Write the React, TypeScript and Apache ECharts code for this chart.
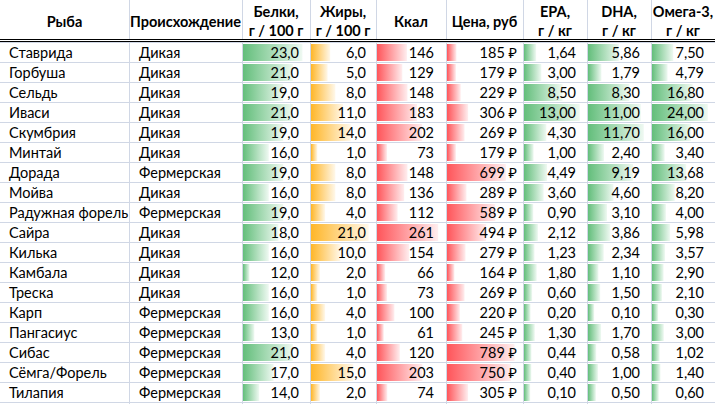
import { useEffect, useRef } from "react";
import * as echarts from "echarts";

const headers = [
  "Рыба",
  "Происхождение",
  "Белки,\nг / 100 г",
  "Жиры,\nг / 100 г",
  "Ккал",
  "Цена, руб",
  "EPA,\nг / кг",
  "DHA,\nг / кг",
  "Омега-3,\nг / кг",
];

const fishNames = [
  "Ставрида", "Горбуша", "Сельдь", "Иваси", "Скумбрия", "Минтай", "Дорада", "Мойва",
  "Радужная форель", "Сайра", "Килька", "Камбала", "Треска", "Карп", "Пангасиус", "Сибас",
  "Сёмга/Форель", "Тилапия",
];
const origins = [
  "Дикая", "Дикая", "Дикая", "Дикая", "Дикая", "Дикая", "Фермерская", "Дикая",
  "Фермерская", "Дикая", "Дикая", "Дикая", "Дикая", "Фермерская", "Фермерская", "Фермерская",
  "Фермерская", "Фермерская",
];
const protein = [23, 21, 19, 21, 19, 16, 19, 16, 19, 18, 16, 12, 16, 16, 13, 21, 17, 14];
const fat = [6, 5, 8, 11, 14, 1, 8, 8, 4, 21, 10, 2, 1, 4, 1, 4, 15, 2];
const kcal = [146, 129, 148, 183, 202, 73, 148, 136, 112, 261, 154, 66, 73, 100, 61, 120, 203, 74];
const price = [185, 179, 229, 306, 269, 179, 699, 289, 589, 494, 279, 164, 269, 220, 245, 789, 750, 305];
const epa = [1.64, 3.0, 8.5, 13.0, 4.3, 1.0, 4.49, 3.6, 0.9, 2.12, 1.23, 1.8, 0.6, 0.2, 1.3, 0.44, 0.4, 0.1];
const dha = [5.86, 1.79, 8.3, 11.0, 11.7, 2.4, 9.19, 4.6, 3.1, 3.86, 2.34, 1.1, 1.5, 0.1, 1.7, 0.58, 1.0, 0.5];
const omega3 = [7.5, 4.79, 16.8, 24.0, 16.0, 3.4, 13.68, 8.2, 4.0, 5.98, 3.57, 2.9, 2.1, 0.3, 3.0, 1.02, 1.4, 0.6];

const colEdges = [0, 129, 242, 310, 376, 446, 523, 587, 651, 715];
const TOP = 42;
const ROW_H = 20;
const FONT = "Lato, 'Noto Sans', sans-serif";
const FS = 14.5;
const GRID_COLOR = "#D0D7E5";

const GREEN = "#63BE7B";
const ORANGE = "#FFB628";
const RED = "#FF555A";

function mixWhite(hex: string, t: number) {
  const n = parseInt(hex.slice(1), 16);
  const r = (n >> 16) & 255, g = (n >> 8) & 255, b = n & 255;
  const m = (c: number) => Math.round(c * t + 255 * (1 - t));
  return `rgb(${m(r)},${m(g)},${m(b)})`;
}

const dec = (d: number) => (v: number) => v.toFixed(d).replace(".", ",");
const rub = (v: number) => `${v} ₽`;

type Col =
  | { kind: "text"; values: string[]; padLeft: number }
  | { kind: "bar"; values: number[]; color: string; fmt: (v: number) => string; padRight: number };

const columns: Col[] = [
  { kind: "text", values: fishNames, padLeft: 9 },
  { kind: "text", values: origins, padLeft: 10 },
  { kind: "bar", values: protein, color: GREEN, fmt: dec(1), padRight: 11 },
  { kind: "bar", values: fat, color: ORANGE, fmt: dec(1), padRight: 10 },
  { kind: "bar", values: kcal, color: RED, fmt: dec(0), padRight: 12 },
  { kind: "bar", values: price, color: RED, fmt: rub, padRight: 6 },
  { kind: "bar", values: epa, color: GREEN, fmt: dec(2), padRight: 11 },
  { kind: "bar", values: dha, color: GREEN, fmt: dec(2), padRight: 11 },
  { kind: "bar", values: omega3, color: GREEN, fmt: dec(2), padRight: 11 },
];

export default function App() {
  const ref = useRef<HTMLDivElement>(null);
  useEffect(() => {
    document.body.style.margin = "0";
    const chart = echarts.init(ref.current!, undefined, { renderer: "svg" });
    const rows = fishNames.map((_, i) => String(i));
    const grids: any[] = [];
    const xAxes: any[] = [];
    const yAxes: any[] = [];
    const series: any[] = [];

    // full-width grid for horizontal row lines
    grids.push({ left: 0, width: 715, top: TOP, height: ROW_H * rows.length });
    xAxes.push({ type: "value", gridIndex: 0, show: false, min: 0, max: 1 });
    yAxes.push({
      type: "category", gridIndex: 0, data: rows, inverse: true,
      axisLine: { show: false }, axisTick: { show: false }, axisLabel: { show: false },
      splitLine: { show: true, lineStyle: { color: GRID_COLOR, width: 1 } },
    });

    columns.forEach((col, ci) => {
      const gi = ci + 1;
      const left = colEdges[ci] + 1;
      const width = colEdges[ci + 1] - colEdges[ci] - 2;
      grids.push({ left, width, top: TOP, height: ROW_H * rows.length });
      yAxes.push({
        type: "category", gridIndex: gi, data: rows, inverse: true, show: false,
      });
      if (col.kind === "text") {
        xAxes.push({ type: "value", gridIndex: gi, show: false, min: 0, max: 1 });
        series.push({
          type: "custom", xAxisIndex: gi, yAxisIndex: gi,
          data: col.values.map((_, r) => [0, r]),
          renderItem: (params: any, api: any) => {
            const r = api.value(1);
            const [x0, yc] = api.coord([0, r]);
            return {
              type: "text",
              style: {
                text: col.values[r], x: x0 + col.padLeft - 1, y: yc,
                align: "left", verticalAlign: "middle",
                fontFamily: FONT, fontSize: FS, fill: "#000",
              },
            };
          },
        });
      } else {
        const vmin = Math.min(...col.values);
        const vmax = Math.max(...col.values);
        const R = (vmax - vmin) / 0.8;
        const amin = vmin - 0.1 * R;
        xAxes.push({ type: "value", gridIndex: gi, show: false, min: amin, max: amin + R });
        const grad = new echarts.graphic.LinearGradient(0, 0, 1, 0, [
          { offset: 0, color: col.color },
          { offset: 1, color: mixWhite(col.color, 0.1) },
        ]);
        series.push({
          type: "custom", xAxisIndex: gi, yAxisIndex: gi,
          data: col.values.map((v, r) => [v, r]),
          renderItem: (params: any, api: any) => {
            const v = api.value(0);
            const r = api.value(1);
            const cs = params.coordSys;
            const [x0] = api.coord([amin, r]);
            const [x1, yc] = api.coord([v, r]);
            const h = api.size([0, 1])[1];
            const top = yc - h / 2;
            return {
              type: "group",
              children: [
                {
                  type: "rect",
                  shape: { x: x0, y: top + 2, width: x1 - x0, height: h - 3 },
                  style: { fill: grad },
                },
                {
                  type: "text",
                  style: {
                    text: col.fmt(v), x: cs.x + cs.width + 1 - col.padRight, y: yc,
                    align: "right", verticalAlign: "middle",
                    fontFamily: FONT, fontSize: FS, fill: "#000",
                  },
                },
              ],
            };
          },
        });
      }
    });

    const graphic: any[] = [];
    colEdges.slice(1, -1).forEach((x) => {
      graphic.push({
        type: "line", shape: { x1: x + 0.5, y1: 0, x2: x + 0.5, y2: 404 },
        style: { stroke: GRID_COLOR, lineWidth: 1 }, z: 1,
      });
    });
    graphic.push({
      type: "line", shape: { x1: 0, y1: 39.5, x2: 715, y2: 39.5 },
      style: { stroke: "#000", lineWidth: 1 }, z: 5,
    });
    graphic.push({
      type: "line", shape: { x1: 0, y1: 41.5, x2: 715, y2: 41.5 },
      style: { stroke: "#000", lineWidth: 1 }, z: 5,
    });
    graphic.push({
      type: "rect", shape: { x: 0, y: 40, width: 715, height: 1 },
      style: { fill: "#fff" }, z: 4,
    });
    headers.forEach((h, i) => {
      graphic.push({
        type: "text", z: 5,
        x: (colEdges[i] + colEdges[i + 1]) / 2, y: 21,
        style: {
          text: h, align: "center", verticalAlign: "middle",
          fontFamily: FONT, fontSize: FS, fontWeight: "bold", lineHeight: 19, fill: "#000",
        },
      });
    });

    chart.setOption({
      animation: false,
      backgroundColor: "#fff",
      grid: grids,
      xAxis: xAxes,
      yAxis: yAxes,
      series,
      graphic,
    });
    return () => chart.dispose();
  }, []);
  return <div ref={ref} style={{ width: 715, height: 404, position: "absolute", left: 0, top: 0 }} />;
}
